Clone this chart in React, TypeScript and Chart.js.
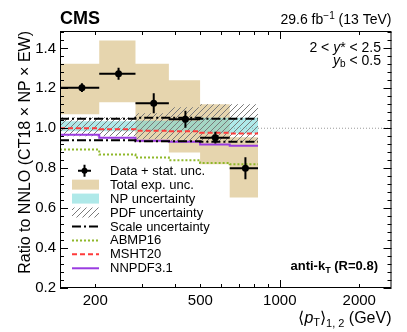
import React, { useEffect, useRef } from "react";
import { Chart, registerables } from "chart.js";

Chart.register(...registerables);

// ---- data ----
const binEdges = [147, 207, 284, 380, 499, 646, 827];
const dataX = [178, 245, 333, 439, 570, 741];
const dataY = [1.203, 1.273, 1.125, 1.045, 0.953, 0.8];
const statErr = [0.022, 0.03, 0.05, 0.043, 0.03, 0.055];
const totUp = [1.323, 1.44, 1.323, 1.24, 1.12, 0.955];
const totDn = [1.07, 1.13, 0.93, 0.878, 0.82, 0.653];
const npUp = [1.035, 1.035, 1.037, 1.037, 1.052, 1.052];
const npDn = [0.985, 0.985, 0.985, 0.985, 0.975, 0.975];
const pdfUp = [1.055, 1.055, 1.075, 1.105, 1.12, 1.12];
const pdfDn = [0.96, 0.96, 0.945, 0.93, 0.93, 0.93];
const scaleUp = [1.048, 1.048, 1.052, 1.052, 1.048, 1.048];
const scaleDn = [0.94, 0.94, 0.935, 0.935, 0.932, 0.932];
const abmp16 = [0.893, 0.868, 0.853, 0.84, 0.826, 0.82];
const msht20 = [1.0, 0.995, 0.988, 0.985, 0.978, 0.974];
const nnpdf31 = [0.967, 0.953, 0.938, 0.932, 0.918, 0.912];
const xTickLabels = [200, 500, 1000, 2000];
const xMinorTicks = [300, 400, 600, 700, 800, 900];
const yTickLabels = [0.2, 0.4, 0.6, 0.8, 1.0, 1.2, 1.4];
const legendLabels = [
  "Data + stat. unc.",
  "Total exp. unc.",
  "NP uncertainty",
  "PDF uncertainty",
  "Scale uncertainty",
  "ABMP16",
  "MSHT20",
  "NNPDF3.1",
];
const X_MIN = 147;
const X_MAX = 2650;
const Y_MIN = 0.2;
const Y_MAX = 1.487;

const FONT = '"Liberation Sans", Arial, Helvetica, sans-serif';
const TAN = "#e6d5ae";
const CYAN = "rgba(110, 215, 215, 0.55)";
const GREEN = "#8fb82a";
const RED = "#ff3b3b";
const PURPLE = "#9a3ce0";
const DASHDOT = [9, 3, 2, 3];

function steps(vals: number[]) {
  return binEdges.map((e, i) => ({ x: e, y: vals[Math.min(i, vals.length - 1)] }));
}

function makeHatch(): CanvasPattern | string {
  const c = document.createElement("canvas");
  c.width = 6;
  c.height = 6;
  const g = c.getContext("2d");
  if (!g) return "#999";
  g.strokeStyle = "#7a7a7a";
  g.lineWidth = 1;
  g.beginPath();
  g.moveTo(0, 6);
  g.lineTo(6, 0);
  g.moveTo(-1, 1);
  g.lineTo(1, -1);
  g.moveTo(5, 7);
  g.lineTo(7, 5);
  g.stroke();
  const p = g.createPattern(c, "repeat");
  return p || "#999";
}

type Part = { t: string; f: string; dy?: number };
function drawRich(ctx: CanvasRenderingContext2D, parts: Part[], x: number, y: number, align: "left" | "right") {
  ctx.save();
  ctx.textBaseline = "alphabetic";
  ctx.textAlign = "left";
  let total = 0;
  const widths = parts.map((p) => {
    ctx.font = p.f;
    const w = ctx.measureText(p.t).width;
    total += w;
    return w;
  });
  let cx = align === "right" ? x - total : x;
  parts.forEach((p, i) => {
    ctx.font = p.f;
    ctx.fillText(p.t, cx, y + (p.dy || 0));
    cx += widths[i];
  });
  ctx.restore();
}

export default function App() {
  const ref = useRef<HTMLCanvasElement | null>(null);

  useEffect(() => {
    if (!ref.current) return;
    const hatch = makeHatch();

    const errData: any[] = [];
    dataX.forEach((xc, i) => {
      errData.push({ x: binEdges[i], y: dataY[i] });
      errData.push({ x: binEdges[i + 1], y: dataY[i] });
      errData.push({ x: xc, y: null });
      errData.push({ x: xc, y: dataY[i] - statErr[i] });
      errData.push({ x: xc, y: dataY[i] + statErr[i] });
      errData.push({ x: xc, y: null });
    });

    const decor = {
      id: "decor",
      afterDraw(chart: any) {
        const ctx: CanvasRenderingContext2D = chart.ctx;
        const a = chart.chartArea;
        const xs = chart.scales.x;
        const ys = chart.scales.y;
        ctx.save();
        // frame
        ctx.strokeStyle = "#000";
        ctx.lineWidth = 1;
        ctx.strokeRect(a.left + 0.5, a.top + 0.5, a.right - a.left - 1, a.bottom - a.top - 1);
        // y ticks
        ctx.beginPath();
        for (let v = Y_MIN; v <= Y_MAX + 1e-9; v += 0.04) {
          const vv = Math.round(v * 100) / 100;
          const py = Math.round(ys.getPixelForValue(vv)) + 0.5;
          const major = Math.abs(vv * 5 - Math.round(vv * 5)) < 1e-6;
          const len = major ? 8 : 4;
          ctx.moveTo(a.left, py);
          ctx.lineTo(a.left + len, py);
          ctx.moveTo(a.right, py);
          ctx.lineTo(a.right - len, py);
        }
        // x ticks
        const allX = [...xTickLabels, ...xMinorTicks];
        allX.forEach((v) => {
          const px = Math.round(xs.getPixelForValue(v)) + 0.5;
          const len = v === 1000 ? 8 : 4;
          ctx.moveTo(px, a.bottom);
          ctx.lineTo(px, a.bottom - len);
          ctx.moveTo(px, a.top);
          ctx.lineTo(px, a.top + len);
        });
        ctx.stroke();

        ctx.fillStyle = "#000";
        // CMS
        drawRich(ctx, [{ t: "CMS", f: `bold 18px ${FONT}` }], 60, 24, "left");
        // lumi
        drawRich(
          ctx,
          [
            { t: "29.6 fb", f: `14px ${FONT}` },
            { t: "\u22121", f: `10px ${FONT}`, dy: -5 },
            { t: " (13 TeV)", f: `14px ${FONT}` },
          ],
          a.right,
          24,
          "right"
        );
        // rapidity labels
        drawRich(
          ctx,
          [
            { t: "2 < ", f: `14px ${FONT}` },
            { t: "y", f: `italic 14px ${FONT}` },
            { t: "* < 2.5", f: `14px ${FONT}` },
          ],
          381,
          52,
          "right"
        );
        drawRich(
          ctx,
          [
            { t: "y", f: `italic 14px ${FONT}` },
            { t: "b", f: `10px ${FONT}`, dy: 2 },
            { t: " < 0.5", f: `14px ${FONT}` },
          ],
          381,
          65,
          "right"
        );
        // anti-kT
        drawRich(
          ctx,
          [
            { t: "anti-k", f: `bold 13px ${FONT}` },
            { t: "T", f: `bold 9px ${FONT}`, dy: 3 },
            { t: " (R=0.8)", f: `bold 13px ${FONT}` },
          ],
          378,
          270,
          "right"
        );
        // x title
        drawRich(
          ctx,
          [
            { t: "\u27E8", f: `16px ${FONT}` },
            { t: "p", f: `italic 16px ${FONT}` },
            { t: "T", f: `11px ${FONT}`, dy: 3 },
            { t: "\u27E9", f: `16px ${FONT}` },
            { t: "1, 2", f: `11px ${FONT}`, dy: 4 },
            { t: " (GeV)", f: `16px ${FONT}` },
          ],
          a.right,
          323,
          "right"
        );
        // y title
        ctx.save();
        ctx.translate(30, a.top);
        ctx.rotate(-Math.PI / 2);
        ctx.font = `16px ${FONT}`;
        ctx.textAlign = "right";
        ctx.textBaseline = "alphabetic";
        ctx.fillText("Ratio to NNLO (CT18 \u00D7 NP \u00D7 EW)", 0, 0);
        ctx.restore();

        // legend
        const x0 = 72;
        const x1 = 99;
        const tx = 110;
        legendLabels.forEach((lab, i) => {
          const cy = 170.7 + 13.94 * i;
          ctx.save();
          if (i === 0) {
            ctx.strokeStyle = "#000";
            ctx.lineWidth = 2;
            ctx.beginPath();
            ctx.moveTo(78, cy);
            ctx.lineTo(91, cy);
            ctx.moveTo(84.5, cy - 6);
            ctx.lineTo(84.5, cy + 6);
            ctx.stroke();
            ctx.fillStyle = "#000";
            ctx.beginPath();
            ctx.arc(84.5, cy, 3, 0, Math.PI * 2);
            ctx.fill();
          } else if (i === 1) {
            ctx.fillStyle = TAN;
            ctx.fillRect(x0, cy - 5, x1 - x0, 10);
          } else if (i === 2) {
            ctx.fillStyle = CYAN;
            ctx.fillRect(x0, cy - 5, x1 - x0, 10);
          } else if (i === 3) {
            ctx.fillStyle = hatch as any;
            ctx.fillRect(x0, cy - 5, x1 - x0, 10);
          } else {
            const styles: any = {
              4: { c: "#000", d: DASHDOT },
              5: { c: GREEN, d: [2, 2] },
              6: { c: RED, d: [5, 3] },
              7: { c: PURPLE, d: [] },
            };
            const s = styles[i];
            ctx.strokeStyle = s.c;
            ctx.lineWidth = 2;
            ctx.setLineDash(s.d);
            ctx.beginPath();
            ctx.moveTo(x0, cy);
            ctx.lineTo(x1, cy);
            ctx.stroke();
          }
          ctx.restore();
          ctx.fillStyle = "#000";
          ctx.font = `13px ${FONT}`;
          ctx.textAlign = "left";
          ctx.textBaseline = "middle";
          ctx.fillText(lab, tx, cy + 0.5);
        });
        ctx.restore();
      },
    };

    const lineDs = (data: any[], color: string, dash: number[], order: number, width = 2) => ({
      data,
      borderColor: color,
      borderWidth: width,
      borderDash: dash,
      stepped: true,
      pointRadius: 0,
      fill: false,
      order,
    });

    const chart = new Chart(ref.current, {
      type: "line",
      data: {
        datasets: [
          { data: steps(totUp), borderWidth: 0, borderColor: "rgba(0,0,0,0)", backgroundColor: TAN, fill: "+1", stepped: true, pointRadius: 0, order: 10 },
          { data: steps(totDn), borderWidth: 0, borderColor: "rgba(0,0,0,0)", fill: false, stepped: true, pointRadius: 0, order: 10 },
          { data: steps(npUp), borderWidth: 0, borderColor: "rgba(0,0,0,0)", backgroundColor: CYAN, fill: "+1", stepped: true, pointRadius: 0, order: 9 },
          { data: steps(npDn), borderWidth: 0, borderColor: "rgba(0,0,0,0)", fill: false, stepped: true, pointRadius: 0, order: 9 },
          { data: steps(pdfUp), borderWidth: 0, borderColor: "rgba(0,0,0,0)", backgroundColor: hatch as any, fill: "+1", stepped: true, pointRadius: 0, order: 8 },
          { data: steps(pdfDn), borderWidth: 0, borderColor: "rgba(0,0,0,0)", fill: false, stepped: true, pointRadius: 0, order: 8 },
          lineDs(steps(scaleUp), "#000", DASHDOT, 5),
          lineDs(steps(scaleDn), "#000", DASHDOT, 5),
          lineDs(steps(abmp16), GREEN, [2, 2], 4),
          lineDs(steps(msht20), RED, [5, 3], 3),
          lineDs(steps(nnpdf31), PURPLE, [], 6),
          { data: errData, borderColor: "#000", borderWidth: 2, pointRadius: 0, spanGaps: false, fill: false, order: 1 },
          {
            data: dataX.map((x, i) => ({ x, y: dataY[i] })),
            showLine: false,
            pointRadius: 3.5,
            pointBackgroundColor: "#000",
            pointBorderColor: "#000",
            pointBorderWidth: 0,
            order: 0,
          },
          {
            data: [
              { x: X_MIN, y: 1 },
              { x: X_MAX, y: 1 },
            ],
            borderColor: "#9a9a9a",
            borderWidth: 1,
            borderDash: [1, 2],
            pointRadius: 0,
            fill: false,
            order: 11,
          },
        ] as any,
      },
      options: {
        animation: false,
        responsive: false,
        devicePixelRatio: 1,
        layout: { padding: { top: 31, right: 15.5, left: 0, bottom: 0 } },
        plugins: { legend: { display: false }, tooltip: { enabled: false } },
        scales: {
          x: {
            type: "logarithmic",
            min: X_MIN,
            max: X_MAX,
            grid: { display: false, drawTicks: false },
            border: { display: false },
            afterBuildTicks: (s: any) => {
              s.ticks = xTickLabels.map((v) => ({ value: v }));
            },
            afterFit: (s: any) => {
              s.height = 44;
            },
            ticks: {
              autoSkip: false,
              maxRotation: 0,
              padding: 4,
              color: "#000",
              font: { family: FONT, size: 15 },
              callback: (v: any) => String(v),
            },
          },
          y: {
            type: "linear",
            min: Y_MIN,
            max: Y_MAX,
            grid: { display: false, drawTicks: false },
            border: { display: false },
            afterBuildTicks: (s: any) => {
              s.ticks = yTickLabels.map((v) => ({ value: v }));
            },
            afterFit: (s: any) => {
              s.width = 60;
            },
            ticks: {
              padding: 4,
              color: "#000",
              font: { family: FONT, size: 15 },
              callback: (v: any) => Number(v).toFixed(1),
            },
          },
        },
      } as any,
      plugins: [decor],
    });
    return () => chart.destroy();
  }, []);

  return (
    <div style={{ position: "absolute", left: 0, top: 0, width: 407, height: 332, background: "#fff" }}>
      <canvas ref={ref} width={407} height={332} style={{ width: 407, height: 332 }} />
    </div>
  );
}
